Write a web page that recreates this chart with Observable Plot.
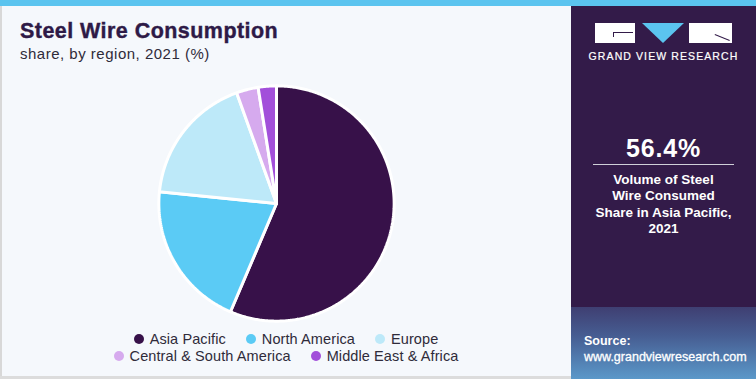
<!DOCTYPE html>
<html>
<head>
<meta charset="utf-8">
<script src="https://cdn.jsdelivr.net/npm/d3@7"></script>
<script src="https://cdn.jsdelivr.net/npm/@observablehq/plot@0.6"></script>
<style>
  html, body { margin: 0; padding: 0; }
  body { width: 756px; height: 379px; overflow: hidden; font-family: "Liberation Sans", Arial, sans-serif; }
  #wrap { position: relative; width: 756px; height: 379px; background: #f5f8fc; overflow: hidden; }
  #topbar { position: absolute; left: 0; top: 0; width: 756px; height: 6px; background: #5bc4ef; }
  #lborder { position: absolute; left: 0; top: 6px; width: 2px; height: 373px; background: #d8d8d8; }
  #bborder { position: absolute; left: 0; top: 376px; width: 571px; height: 3px; background: #dcdcdc; }
  #title { position: absolute; left: 20px; top: 19px; font-size: 21.5px; font-weight: 900; color: #2e1a47; letter-spacing: 0.45px; -webkit-text-stroke: 0.4px #2e1a47; }
  #subtitle { position: absolute; left: 20px; top: 45px; font-size: 15px; color: #2f2b3a; letter-spacing: 0.5px; }
  #pie { position: absolute; left: 156px; top: 83px; }
  #legend { position: absolute; left: 86px; top: 331px; width: 400px; display: flex; flex-wrap: wrap; justify-content: center; column-gap: 20px; row-gap: 0px; font-size: 14.5px; color: #2f2b3a; line-height: 16.5px; letter-spacing: 0.1px; }
  .li { display: flex; align-items: center; white-space: nowrap; }
  .dot { width: 10px; height: 10px; border-radius: 50%; margin-right: 6px; }
  #panel { position: absolute; left: 571px; top: 6px; width: 185px; height: 373px; background: #331b49; }
  #grad { position: absolute; left: 0; top: 301px; width: 185px; height: 72px;
          background: linear-gradient(to bottom, #3f3f72 0%, #465d92 40%, #5b98c9 100%); }
  #logo { position: absolute; left: 24px; top: 17px; width: 137px; height: 20px; }
  .box { position: absolute; top: 0; height: 20px; background: #ffffff; }
  .ln { position: absolute; background: #331b49; }
  #tri { position: absolute; left: 47px; top: 0; width: 0; height: 0; border-left: 21px solid transparent; border-right: 21px solid transparent; border-top: 20px solid #5bc4ef; }
  #gvr { position: absolute; left: 0; top: 44px; width: 185px; text-align: center; color: #fff; font-size: 10.5px; font-weight: normal; letter-spacing: 1.1px; -webkit-text-stroke: 0.2px #fff; }
  #big { position: absolute; left: 0; top: 128px; width: 185px; text-align: center; color: #fff; font-size: 25px; font-weight: bold; letter-spacing: 0.8px; }
  #rule { position: absolute; left: 22px; top: 158px; width: 141px; height: 1px; background: #cfcfd8; }
  #desc { position: absolute; left: 0; top: 166px; width: 185px; text-align: center; color: #fff; font-size: 13.5px; font-weight: bold; line-height: 16.3px; }
  #src { position: absolute; left: 13px; top: 328px; color: #fff; font-size: 12.5px; font-weight: bold; line-height: 15.5px; }
</style>
</head>
<body>
<div id="wrap">
  <div id="topbar"></div>
  <div id="lborder"></div>
  <div id="bborder"></div>
  <div id="title">Steel Wire Consumption</div>
  <div id="subtitle">share, by region, 2021 (%)</div>
  <div id="pie"></div>
  <div id="legend"></div>
  <div id="panel">
    <div id="grad"></div>
    <div id="logo">
      <div class="box" style="left:0;width:40px;"></div>
      <div class="ln" style="left:18px;top:9px;width:20px;height:1px;"></div>
      <div class="ln" style="left:18px;top:9px;width:1px;height:5px;"></div>
      <div id="tri"></div>
      <div class="box" style="left:94px;width:43px;"></div>
      <div class="ln" style="left:120px;top:11px;width:16px;height:1px;transform:rotate(22deg);transform-origin:0 0;"></div>
    </div>
    <div id="gvr">GRAND VIEW RESEARCH</div>
    <div id="big">56.4%</div>
    <div id="rule"></div>
    <div id="desc">Volume of Steel<br>Wire Consumed<br>Share in Asia Pacific,<br>2021</div>
    <div id="src">Source:<br><span style="font-weight:normal;-webkit-text-stroke:0.3px #fff">www.grandviewresearch.com</span></div>
  </div>
</div>
<script>
// Data
const regions = ["Asia Pacific", "North America", "Europe", "Central & South America", "Middle East & Africa"];
const shares = [56.4, 20.2, 17.9, 3.0, 2.5];
const colors = ["#371149", "#5bcbf5", "#bde9f9", "#d6aaee", "#a24fda"];

// Build slice outlines (unit circle, clockwise from top) from the shares
const total = d3.sum(shares);
const pts = [];
let acc = 0;
regions.forEach((r, i) => {
  const a0 = acc / total * 2 * Math.PI;
  acc += shares[i];
  const a1 = acc / total * 2 * Math.PI;
  pts.push({region: r, x: 0, y: 0});
  const n = Math.max(4, Math.ceil((a1 - a0) / 0.01));
  for (let k = 0; k <= n; k++) {
    const a = a0 + (a1 - a0) * k / n;
    pts.push({region: r, x: Math.sin(a), y: Math.cos(a)});
  }
  pts.push({region: r, x: 0, y: 0});
});

const size = 240;
const chart = Plot.plot({
  width: size,
  height: size,
  margin: 0,
  x: {domain: [-1.02, 1.02], axis: null},
  y: {domain: [-1.02, 1.02], axis: null},
  color: {domain: regions, range: colors},
  style: {background: "transparent", overflow: "visible"},
  marks: [
    Plot.line(pts, {x: "x", y: "y", z: "region", fill: "region", stroke: "#ffffff", strokeWidth: 3, strokeLinejoin: "miter", curve: "linear"})
  ]
});
document.getElementById("pie").appendChild(chart);

// Legend
const leg = document.getElementById("legend");
regions.forEach((r, i) => {
  const it = document.createElement("div");
  it.className = "li";
  const d = document.createElement("span");
  d.className = "dot";
  d.style.background = colors[i];
  it.appendChild(d);
  it.appendChild(document.createTextNode(r));
  leg.appendChild(it);
});
</script>
</body>
</html>
